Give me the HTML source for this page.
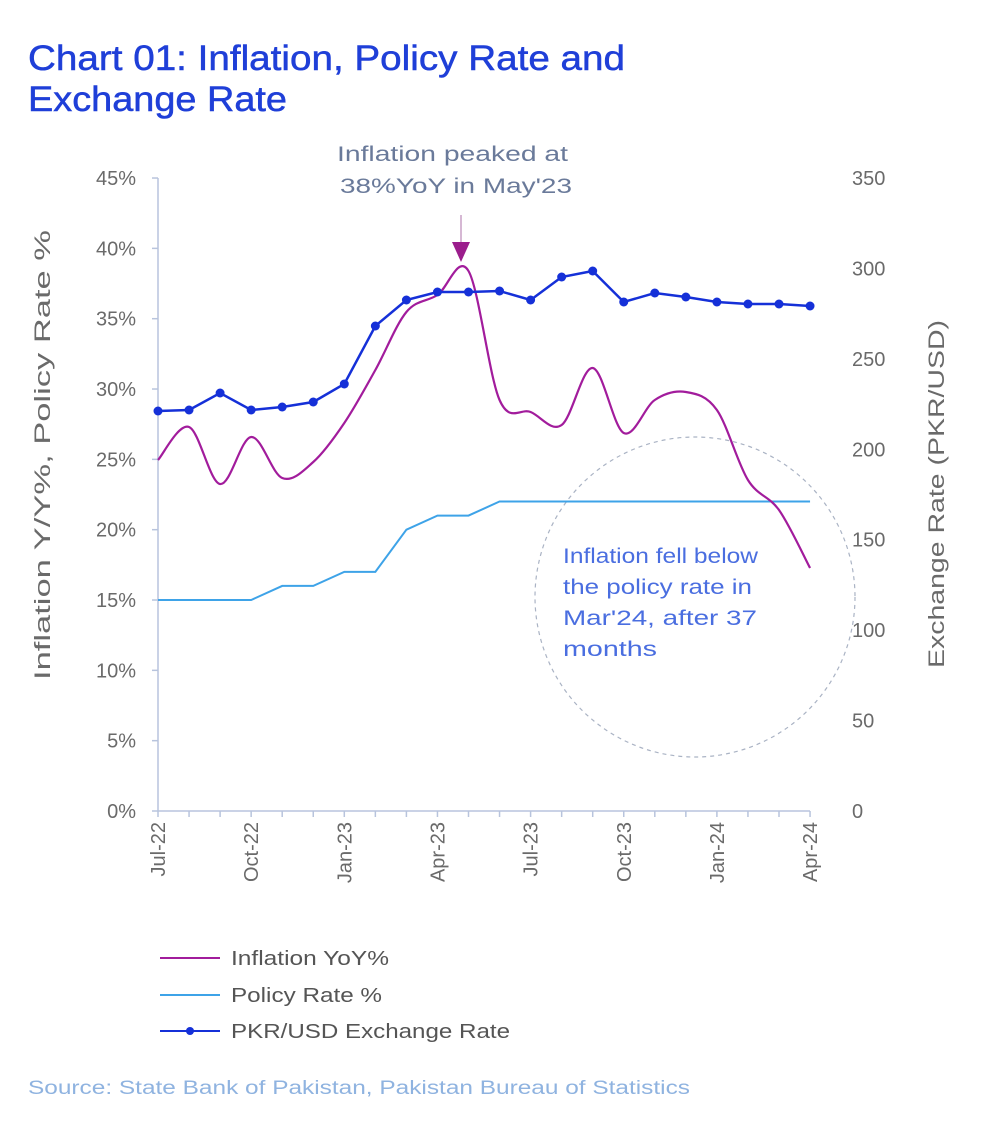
<!DOCTYPE html>
<html><head><meta charset="utf-8"><style>
body{margin:0;background:#fff;width:988px;height:1132px;overflow:hidden;font-family:"Liberation Sans",sans-serif}
</style></head><body>
<svg width="988" height="1132" viewBox="0 0 988 1132" xmlns="http://www.w3.org/2000/svg" font-family="Liberation Sans, sans-serif">
<text x="28" y="70" font-size="35" fill="#1f3fd8" stroke="#1f3fd8" stroke-width="0.5" textLength="597" lengthAdjust="spacingAndGlyphs">Chart 01: Inflation, Policy Rate and</text>
<text x="28" y="111" font-size="35" fill="#1f3fd8" stroke="#1f3fd8" stroke-width="0.5" textLength="259" lengthAdjust="spacingAndGlyphs">Exchange Rate</text>
<g id="axes" stroke="#b8c4dd" stroke-width="1.5" fill="none">
<line x1="158" y1="178" x2="158" y2="811"/>
<line x1="158" y1="811" x2="810" y2="811"/>
</g>
<g id="lab" font-size="20" fill="#6a6a6a"></g>
<text transform="translate(50,455) rotate(-90)" text-anchor="middle" font-size="22" fill="#6a6a6a" textLength="450" lengthAdjust="spacingAndGlyphs">Inflation Y/Y%,  Policy Rate %</text>
<text transform="translate(944,494) rotate(-90)" text-anchor="middle" font-size="22" fill="#6a6a6a" textLength="348" lengthAdjust="spacingAndGlyphs">Exchange Rate (PKR/USD)</text>
<circle cx="695" cy="597" r="160" fill="none" stroke="#aab3c4" stroke-width="1.2" stroke-dasharray="4,4"/>
<g font-size="21" fill="#4a6ee0">
<text x="563" y="563" textLength="195" lengthAdjust="spacingAndGlyphs">Inflation fell below</text>
<text x="563" y="594" textLength="189" lengthAdjust="spacingAndGlyphs">the policy rate in</text>
<text x="563" y="625" textLength="194" lengthAdjust="spacingAndGlyphs">Mar'24, after 37</text>
<text x="563" y="656" textLength="94" lengthAdjust="spacingAndGlyphs">months</text>
</g>
<g font-size="21" fill="#6a7a9a">
<text x="337" y="161" textLength="231" lengthAdjust="spacingAndGlyphs">Inflation peaked at</text>
<text x="340" y="193" textLength="232" lengthAdjust="spacingAndGlyphs">38%YoY  in May'23</text>
</g>
<line x1="461" y1="215" x2="461" y2="245" stroke="#c9a0c6" stroke-width="1.5"/>
<polygon points="452,242 470,242 461,262" fill="#9b1d8c"/>
<path id="pol" fill="none" stroke="#3ea3e8" stroke-width="2"/>
<path id="inf" fill="none" stroke="#a21c9c" stroke-width="2.2"/>
<path id="fx" fill="none" stroke="#1530d8" stroke-width="2.5"/>
<g id="dots" fill="#1530d8"></g>
<line x1="160" y1="958" x2="220" y2="958" stroke="#a21c9c" stroke-width="2"/>
<text x="231" y="965" font-size="20" fill="#555" textLength="158" lengthAdjust="spacingAndGlyphs">Inflation YoY%</text>
<line x1="160" y1="995" x2="220" y2="995" stroke="#3ea3e8" stroke-width="2"/>
<text x="231" y="1002" font-size="20" fill="#555" textLength="151" lengthAdjust="spacingAndGlyphs">Policy Rate %</text>
<line x1="160" y1="1031" x2="220" y2="1031" stroke="#1530d8" stroke-width="2"/>
<circle cx="190" cy="1031" r="4" fill="#1530d8"/>
<text x="231" y="1038" font-size="20" fill="#555" textLength="279" lengthAdjust="spacingAndGlyphs">PKR/USD Exchange Rate</text>
<text x="28" y="1094" font-size="19" fill="#8fb3e0" textLength="662" lengthAdjust="spacingAndGlyphs">Source: State Bank of Pakistan, Pakistan Bureau of Statistics</text>
</svg>
<script>
const ns="http://www.w3.org/2000/svg";
const X=i=>158+i*31.05;
const lab=document.getElementById('lab');
function t(x,y,s,a,tr){const e=document.createElementNS(ns,'text');e.setAttribute('x',x);e.setAttribute('y',y);e.setAttribute('text-anchor',a);if(tr)e.setAttribute('transform',tr);e.textContent=s;lab.appendChild(e);}
for(let k=0;k<=9;k++){const y=811-k*70.33;t(136,y+7,(k*5)+'%','end');
 const l=document.createElementNS(ns,'line');l.setAttribute('x1',152);l.setAttribute('x2',158);l.setAttribute('y1',y);l.setAttribute('y2',y);l.setAttribute('stroke','#b8c4dd');document.getElementById('axes').appendChild(l);}
for(let k=0;k<=7;k++){const y=811-k*90.43;t(852,y+7,String(k*50),'start');}
const ml=['Jul-22','Oct-22','Jan-23','Apr-23','Jul-23','Oct-23','Jan-24','Apr-24'];
ml.forEach((m,j)=>{const x=X(j*3);t(x+7,822,m,'end','rotate(-90 '+(x+7)+' 822)');});
for(let i=0;i<=21;i++){const l=document.createElementNS(ns,'line');l.setAttribute('x1',X(i));l.setAttribute('x2',X(i));l.setAttribute('y1',811);l.setAttribute('y2',817);l.setAttribute('stroke','#b8c4dd');document.getElementById('axes').appendChild(l);}
const fx=[411,410,393,410,407,402,384,326,300,292,292,291,300,277,271,302,293,297,302,304,304,306];
const pr=[15,15,15,15,16,16,17,17,20,21,21,22,22,22,22,22,22,22,22,22,22,22];
const inf=[460,427,484,437,478,462,423,370,312,295,271,400,412,425,368,433,400,392,410,480,510,568];
document.getElementById('fx').setAttribute('d',fx.map((y,i)=>(i?'L':'M')+X(i)+' '+y).join(''));
document.getElementById('pol').setAttribute('d',pr.map((v,i)=>(i?'L':'M')+X(i)+' '+(811-v*14.067)).join(''));
fx.forEach((y,i)=>{const c=document.createElementNS(ns,'circle');c.setAttribute('cx',X(i));c.setAttribute('cy',y);c.setAttribute('r',4.5);document.getElementById('dots').appendChild(c);});
const P=inf.map((y,i)=>[X(i),y]);let d='M'+P[0].join(' ');
for(let i=0;i<P.length-1;i++){const p0=P[Math.max(i-1,0)],p1=P[i],p2=P[i+1],p3=P[Math.min(i+2,P.length-1)];
 d+='C'+(p1[0]+(p2[0]-p0[0])/6)+' '+(p1[1]+(p2[1]-p0[1])/6)+' '+(p2[0]-(p3[0]-p1[0])/6)+' '+(p2[1]-(p3[1]-p1[1])/6)+' '+p2[0]+' '+p2[1];}
document.getElementById('inf').setAttribute('d',d);
</script>
</body></html>
